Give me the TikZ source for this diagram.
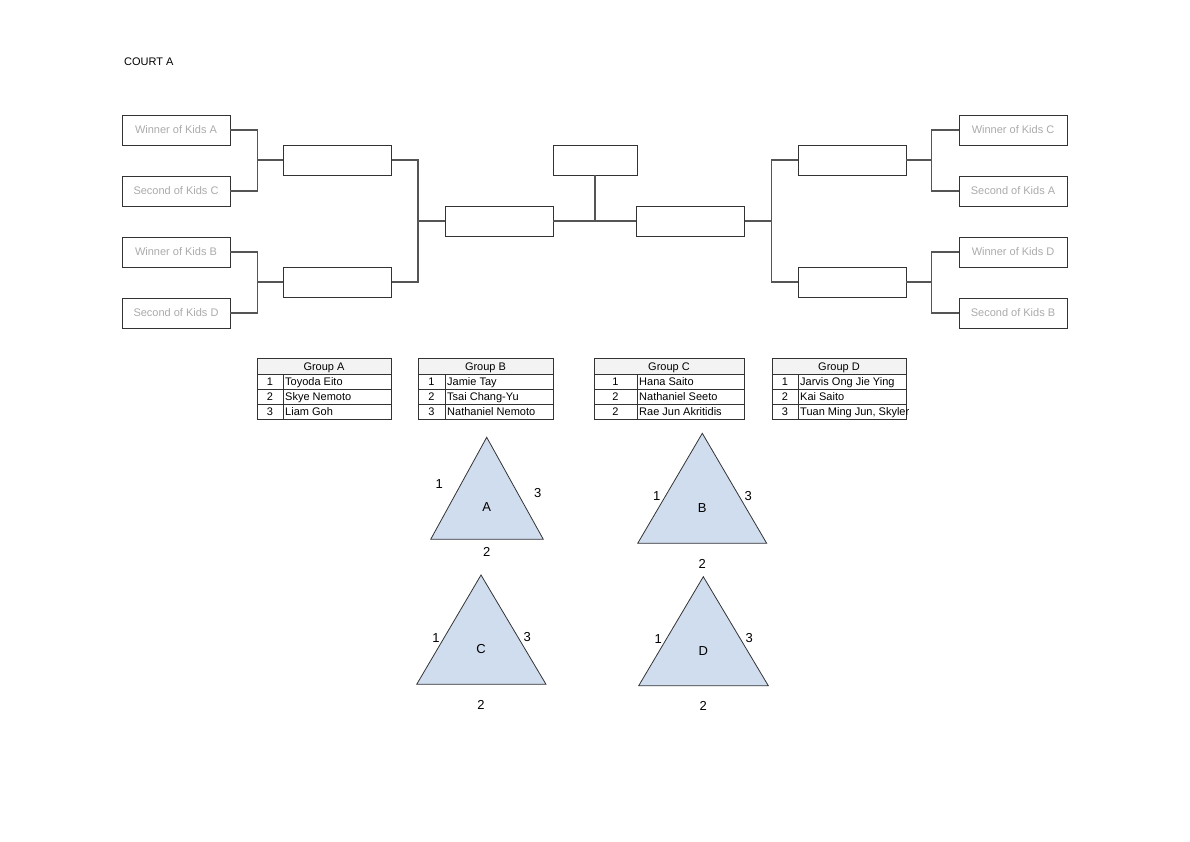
\documentclass[tikz,border=0pt]{standalone}
\usepackage{fontspec}
\setmainfont{Liberation Sans}
\usetikzlibrary{positioning}

\definecolor{boxline}{HTML}{333333}
\definecolor{linkgray}{HTML}{555555}
\definecolor{seedgray}{HTML}{AAAAAA}
\definecolor{headgray}{HTML}{F3F3F3}
\definecolor{triblue}{HTML}{D0DDEF}

\tikzset{
  slot/.style={draw=boxline, line width=0.8pt, minimum width=108pt, minimum height=30pt,
    inner sep=0pt, text=seedgray, font=\fontsize{11}{13}\selectfont},
  link/.style={draw=linkgray, line width=1.2pt},
  cellline/.style={draw=boxline, line width=0.7pt},
  celltext/.style={inner sep=0pt, inner xsep=2pt, text height=8pt, text depth=2pt,
    font=\fontsize{11}{13}\selectfont},
  trilabel/.style={inner sep=0pt, font=\fontsize{13}{15}\selectfont}
}

% one group table: name, left x, divider x, right x, title, rows
\newcommand{\grouptab}[6]{%
  \filldraw[cellline, fill=headgray] (#2,358) rectangle (#4,374);
  \node[celltext] (#1head) at ({(#2+#4)/2},367) {#5};
  \foreach \n/\who [count=\i] in {#6} {
    \draw[cellline] (#2,{359+15*\i}) rectangle (#4,{374+15*\i});
    \draw[cellline] (#3,{359+15*\i}) -- (#3,{374+15*\i});
    \node[celltext] (#1num\i) at ({(#2+#3)/2},{367.5+15*\i}) {\n};
    \node[celltext, anchor=west] (#1name\i) at (#3,{367.5+15*\i}) {\who};
  }
}

\begin{document}
\begin{tikzpicture}[x=1pt, y=-1pt]
  \useasboundingbox (0,0) rectangle (1190,841);

  \node[anchor=west, inner sep=0pt, font=\fontsize{11}{13}\selectfont] (court) at (124,62) {COURT A};

  % left half
  \node[slot] (winA) at (176,130) {Winner of Kids A};
  \node[slot] (secC) at (176,191) {Second of Kids C};
  \node[slot] (winB) at (176,252) {Winner of Kids B};
  \node[slot] (secD) at (176,313) {Second of Kids D};
  \node[slot] (qfAC) at (337.5,160) {};
  \node[slot] (qfBD) at (337.5,282) {};
  \node[slot] (semiL) at (499,221) {};

  % right half
  \node[slot] (winC) at (1013,130) {Winner of Kids C};
  \node[slot] (secA) at (1013,191) {Second of Kids A};
  \node[slot] (winD) at (1013,252) {Winner of Kids D};
  \node[slot] (secB) at (1013,313) {Second of Kids B};
  \node[slot] (qfCA) at (852,160) {};
  \node[slot] (qfDB) at (852,282) {};
  \node[slot] (semiR) at (690.5,221) {};

  % final
  \node[slot, minimum width=84pt] (final) at (595,160) {};

  %links left
  \draw[link] (winA.east) -- ++(27,0) |- (qfAC.west);
  \draw[link] (secC.east) -- ++(27,0) |- (qfAC.west);
  \draw[link] (winB.east) -- ++(27,0) |- (qfBD.west);
  \draw[link] (secD.east) -- ++(27,0) |- (qfBD.west);
  \draw[link] (qfAC.east) -- ++(26,0) |- (semiL.west);
  \draw[link] (qfBD.east) -- ++(26,0) |- (semiL.west);

  %links right
  \draw[link] (winC.west) -- ++(-27,0) |- (qfCA.east);
  \draw[link] (secA.west) -- ++(-27,0) |- (qfCA.east);
  \draw[link] (winD.west) -- ++(-27,0) |- (qfDB.east);
  \draw[link] (secB.west) -- ++(-27,0) |- (qfDB.east);
  \draw[link] (qfCA.west) -- ++(-26,0) |- (semiR.east);
  \draw[link] (qfDB.west) -- ++(-26,0) |- (semiR.east);

  %links centre
  \draw[link] (semiL.east) -- (semiR.west);
  \draw[link] (final.south) -- (final.south |- semiL.east);

  % group tables
  \grouptab{grpA}{257}{283}{391}{Group A}{1/Toyoda Eito, 2/Skye Nemoto, 3/Liam Goh}
  \grouptab{grpB}{418}{445}{553}{Group B}{1/Jamie Tay, 2/Tsai Chang-Yu, 3/Nathaniel Nemoto}
  \grouptab{grpC}{594}{637}{744}{Group C}{1/Hana Saito, 2/Nathaniel Seeto, 2/Rae Jun Akritidis}
  \grouptab{grpD}{772}{798}{906}{Group D}{1/Jarvis Ong Jie Ying, 2/Kai Saito, 3/{Tuan Ming Jun, Skyler}}

  % triangles
  \filldraw[fill=triblue, draw=boxline, line width=0.8pt] (486.7,437.3) -- (543.3,539.3) -- (430.7,539.3) -- cycle;
  \node[trilabel] (triA) at (486.7,507.3) {A};
  \node[trilabel] (triA1) at (439.3,483.8) {1};
  \node[trilabel] (triA3) at (537.7,492.7) {3};
  \node[trilabel] (triA2) at (486.7,551.7) {2};

  \filldraw[fill=triblue, draw=boxline, line width=0.8pt] (702.3,433.3) -- (766.7,543.3) -- (637.7,543.3) -- cycle;
  \node[trilabel] (triB) at (702.3,508.3) {B};
  \node[trilabel] (triB1) at (656.7,495.7) {1};
  \node[trilabel] (triB3) at (748.3,495.7) {3};
  \node[trilabel] (triB2) at (702.3,564) {2};

  \filldraw[fill=triblue, draw=boxline, line width=0.8pt] (481,575) -- (546,684.3) -- (416.7,684.3) -- cycle;
  \node[trilabel] (triC) at (481,649) {C};
  \node[trilabel] (triC1) at (436,638.3) {1};
  \node[trilabel] (triC3) at (527.3,637.3) {3};
  \node[trilabel] (triC2) at (481,705) {2};

  \filldraw[fill=triblue, draw=boxline, line width=0.8pt] (703.3,576.7) -- (768.3,685.7) -- (638.7,685.7) -- cycle;
  \node[trilabel] (triD) at (703.3,650.7) {D};
  \node[trilabel] (triD1) at (658.3,639.3) {1};
  \node[trilabel] (triD3) at (749.3,638.3) {3};
  \node[trilabel] (triD2) at (703.3,705.7) {2};

\end{tikzpicture}
\end{document}
